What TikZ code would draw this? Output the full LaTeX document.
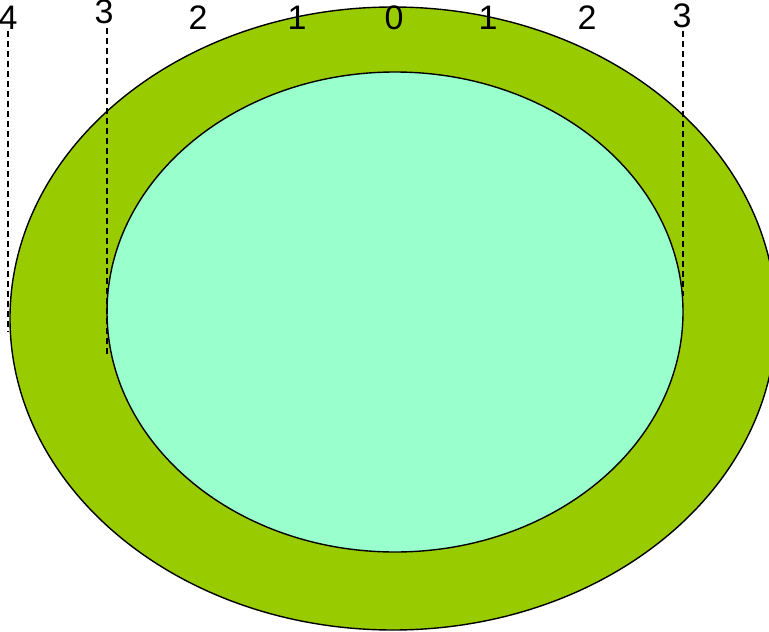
\documentclass[tikz,border=0pt]{standalone}
\usepackage{fontspec}
\setmainfont{Liberation Sans}
\usetikzlibrary{shapes.geometric}

\begin{document}
\begin{tikzpicture}[
  x=1pt, y=-1pt,
  ring/.style={ellipse, draw=black, line width=1.4pt, inner sep=0pt},
  tick/.style={font=\fontsize{34}{34}\selectfont, inner sep=0pt},
  guide/.style={draw=black, line width=1.5pt, dash pattern=on 6pt off 4pt},
]
\useasboundingbox (0,0) rectangle (769,632);
% ---------- rings ----------
\node[ring, fill={rgb,255:red,153;green,204;blue,0},
      minimum width=766pt, minimum height=623pt] (outer) at (393,318.5) {};
\node[ring, fill={rgb,255:red,153;green,255;blue,204},
      minimum width=576pt, minimum height=480pt] (inner) at (395,312) {};
% ---------- scale ----------
\node[tick] (l4) at (8,18) {4};
\node[tick] (l3) at (104,12) {3};
\node[tick] (l2) at (198,18) {2};
\node[tick] (l1) at (297,18) {1};
\node[tick] (c0) at (394,18) {0};
\node[tick] (r1) at (488,18) {1};
\node[tick] (r2) at (587,18) {2};
\node[tick] (r3) at (682,16) {3};
\node[tick] (r4) at (779,20) {4};
% ---------- guides ----------
\coordinate (g4a) at (8,31);   \coordinate (g4b) at (8,332);
\coordinate (g3a) at (107,28); \coordinate (g3b) at (107,355);
\coordinate (h3a) at (683,31); \coordinate (h3b) at (683,296);
\draw[guide] (g4a) -- (g4b);
\draw[guide] (g3a) -- (g3b);
\draw[guide] (h3a) -- (h3b);
\end{tikzpicture}
\end{document}
